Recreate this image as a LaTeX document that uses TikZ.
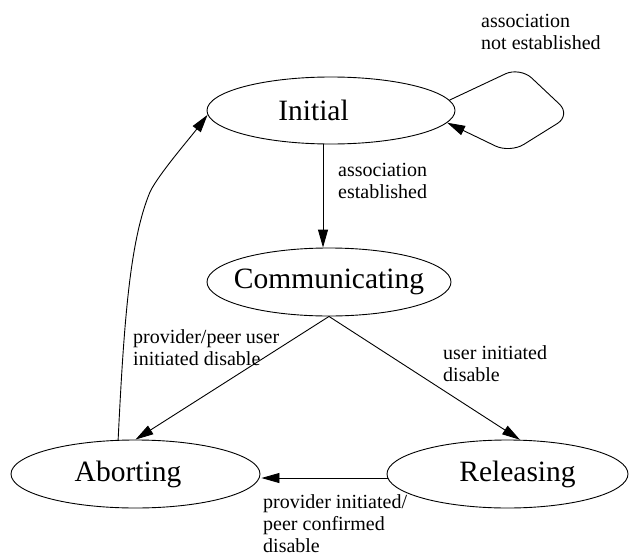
\documentclass[tikz,border=0pt]{standalone}
\usepackage{fontspec}
\setmainfont{Liberation Serif}
\usetikzlibrary{shapes.geometric,arrows.meta,calc}
\begin{document}
\begin{tikzpicture}[x=1pt,y=-1pt,
  state/.style={draw,ellipse,line width=0.9pt,inner sep=0pt},
  lbl/.style={inner sep=0pt,align=left,anchor=west,font=\fontsize{20}{22}\selectfont},
  stname/.style={font=\fontsize{29.5}{32}\selectfont,inner sep=0pt},
  edge/.style={line width=0.9pt,-{Triangle[length=18pt,width=10pt]}}]
\useasboundingbox (0,0) rectangle (629,554);
\node[state,minimum width=248pt,minimum height=67pt,label={[stname,xshift=-17.5pt]center:Initial}] (init) at (331,110.5) {};
\node[state,minimum width=244pt,minimum height=68pt,label={[stname]center:Communicating}] (comm) at (329,282) {};
\node[state,minimum width=249pt,minimum height=68pt,label={[stname,xshift=-7.5pt]center:Aborting}] (abort) at (135.5,474) {};
\node[state,minimum width=241pt,minimum height=68pt,label={[stname,xshift=10pt]center:Releasing}] (rel) at (507.5,474) {};
% edges
\draw[edge] ($(init.south)+(-8,0)$) -- ($(comm.north)+(-6,0)$);
\draw[edge] (comm.south) -- (abort.north);
\draw[edge] (comm.south) -- (rel.70);
\draw[edge] ($(rel.west)+(1,4)$) -- ($(abort.east)+(1,4)$);
\draw[edge] (abort.117) .. controls (124,320) and (130,240) .. (150,192) .. controls (158,175) and (190,138) .. (init.182);
\draw[edge,rounded corners=16pt] (init.5) -- (520,67) -- (571,115) -- (510,153) -- (init.-6);
% labels
\node[lbl] (l1) at (481,31.5) {association\\not established};
\node[lbl] (l2) at (338,181) {association\\established};
\node[lbl] (l3) at (133,348) {provider/peer user\\initiated disable};
\node[lbl] (l4) at (443,363.5) {user initiated\\disable};
\node[lbl] (l5) at (263,523.5) {provider initiated/\\peer confirmed\\disable};
\end{tikzpicture}
\end{document}
